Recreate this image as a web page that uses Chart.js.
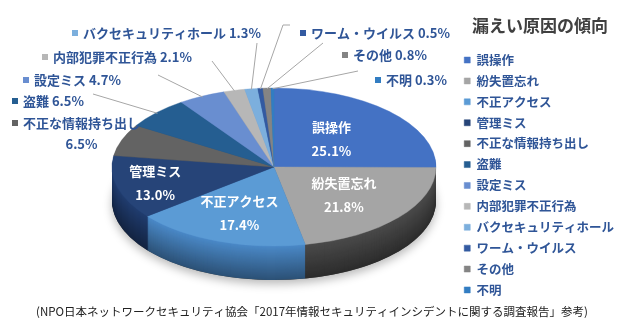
<!DOCTYPE html>
<html><head><meta charset="utf-8">
<script src="https://cdn.jsdelivr.net/npm/chart.js@4.4.1/dist/chart.umd.min.js"></script>
<style>html,body{margin:0;padding:0;background:#fff}#wrap{width:620px;height:328px}</style>
</head><body><div id="wrap"><canvas id="c" width="620" height="328"></canvas></div>
<script>
// ---- data ----
const categories = ['誤操作','紛失置忘れ','不正アクセス','管理ミス','不正な情報持ち出し','盗難','設定ミス','内部犯罪不正行為','バクセキュリティホール','ワーム・ウイルス','その他','不明'];
const shares = [25.1, 21.8, 17.4, 13.0, 6.5, 6.5, 4.7, 2.1, 1.3, 0.5, 0.8, 0.3];
const chartTitle = '漏えい原因の傾向';
const sourceNote = '(NPO日本ネットワークセキュリティ協会「2017年情報セキュリティインシデントに関する調査報告」参考)';

// ---- styles ----
const FONT = '"Noto Sans CJK JP", "Noto Sans", sans-serif';
const topColors  = ['#4472C4','#A5A5A5','#5B9BD5','#264478','#636363','#255E91','#698ED0','#B7B7B7','#7CAFDD','#335AA1','#848484','#327DC2'];
const sideColors = ['#3560A8','#4A4A4A','#4A88C6','#203C6E','#444444','#1E4E7A','#5578B8','#8A8A8A','#6398C8','#2A4C8A','#626262','#2A6AA8'];
const insideRadial = [0.5, 0.56, 0.62, 0.76];
// pie placement (screen): ellipse centre, radii, thickness
const CX = 274, CY = 167, RX = 162, RY = 79, DEPTH = 34;
// outside label placement
const outsideLayout = [
  {i:4,  x:12,  y:123, twoLine:true},
  {i:5,  x:12,  y:101, from:[[93,94]]},
  {i:6,  x:23,  y:80,  from:[[158,75]]},
  {i:7,  x:42,  y:57,  from:[[212,61]]},
  {i:8,  x:72,  y:33,  from:[[257,43]]},
  {i:9,  x:300, y:33,  from:[[290,25],[283,25]]},
  {i:10, x:342, y:55,  from:[[323,43]]},
  {i:11, x:375, y:80,  from:[[358,71]]}
];

function pct(v){ return v.toFixed(1) + '%'; }
function shade(hex, f){
  const n = parseInt(hex.slice(1),16);
  const r = Math.round(((n>>16)&255)*f), g = Math.round(((n>>8)&255)*f), b = Math.round((n&255)*f);
  return 'rgb('+r+','+g+','+b+')';
}
function ePt(a, f){ return [CX + RX*f*Math.cos(a), CY + RY*f*Math.sin(a)]; }

const pie3d = {
  id: 'pie3d',
  beforeDatasetsDraw(chart){
    const ctx = chart.ctx;
    const arcs = chart.getDatasetMeta(0).data;
    ctx.save();
    ctx.shadowColor = 'rgba(0,0,0,0.28)'; ctx.shadowBlur = 10; ctx.shadowOffsetY = 4;
    ctx.fillStyle = '#444';
    ctx.beginPath(); ctx.ellipse(CX, CY + DEPTH, RX, RY, 0, 0, Math.PI*2); ctx.fill();
    ctx.restore();
    for (let d = DEPTH; d >= 1; d--) {
      const t = (d - 1) / (DEPTH - 1);
      arcs.forEach((arc, i) => {
        const p = arc.getProps(['startAngle','endAngle'], true);
        ctx.fillStyle = shade(sideColors[i], 1 - 0.4*t);
        ctx.beginPath();
        ctx.moveTo(CX, CY + d);
        ctx.ellipse(CX, CY + d, RX, RY, 0, p.startAngle, p.endAngle);
        ctx.closePath();
        ctx.fill();
      });
    }
    const a0 = arcs[0].getProps(['x','y','outerRadius'], true);
    ctx.save();
    ctx.translate(CX, CY);
    ctx.scale(RX / a0.outerRadius, RY / a0.outerRadius);
    ctx.translate(-a0.x, -a0.y);
  },
  afterDatasetsDraw(chart){ chart.ctx.restore(); }
};

const pieLabels = {
  id: 'pieLabels',
  afterDraw(chart){
    const ctx = chart.ctx;
    const arcs = chart.getDatasetMeta(0).data;
    ctx.save();
    ctx.fillStyle = '#ffffff';
    ctx.font = 'bold 13px ' + FONT;
    ctx.textAlign = 'center'; ctx.textBaseline = 'middle';
    insideRadial.forEach((f, i) => {
      const p = arcs[i].getProps(['startAngle','endAngle'], true);
      const [x, y] = ePt((p.startAngle + p.endAngle)/2, f);
      ctx.fillText(categories[i], x, y - 12);
      ctx.fillText(pct(shares[i]), x, y + 12);
    });
    outsideLayout.forEach(L => {
      const i = L.i;
      const p = arcs[i].getProps(['startAngle','endAngle'], true);
      if (L.from) {
        const end = ePt((p.startAngle + p.endAngle)/2, 0.99);
        ctx.strokeStyle = '#A6A6A6'; ctx.lineWidth = 1;
        ctx.beginPath();
        ctx.moveTo(L.from[0][0], L.from[0][1]);
        for (let k = 1; k < L.from.length; k++) ctx.lineTo(L.from[k][0], L.from[k][1]);
        ctx.lineTo(end[0], end[1]);
        ctx.stroke();
      }
      ctx.fillStyle = topColors[i];
      ctx.fillRect(L.x, L.y - 3, 6, 6);
      ctx.fillStyle = '#2F5597';
      ctx.font = 'bold 13px ' + FONT;
      ctx.textBaseline = 'middle';
      if (L.twoLine) {
        ctx.textAlign = 'left';
        ctx.fillText(categories[i], L.x + 11, L.y);
        const w = ctx.measureText(categories[i]).width;
        ctx.textAlign = 'center';
        ctx.fillText(pct(shares[i]), L.x + 11 + w/2, L.y + 21);
      } else {
        ctx.textAlign = 'left';
        ctx.fillText(categories[i] + ' ' + pct(shares[i]), L.x + 11, L.y);
      }
    });
    ctx.restore();
  }
};

new Chart(document.getElementById('c'), {
  type: 'pie',
  data: {
    labels: categories,
    datasets: [{
      data: shares,
      backgroundColor: topColors,
      borderColor: topColors,
      borderWidth: 0.5,
      clip: false
    }]
  },
  options: {
    responsive: false,
    animation: false,
    events: [],
    layout: { padding: { right: -4 } },
    plugins: {
      tooltip: { enabled: false },
      legend: {
        position: 'right', align: 'start', fullSize: true,
        title: { display: true, text: chartTitle, color: '#404040',
                 font: { family: FONT, size: 17, weight: 'bold' }, padding: { top: 17, bottom: 8 } },
        labels: { boxWidth: 6, boxHeight: 6, padding: 8.4, color: '#2F5597',
                  font: { family: FONT, size: 12.5, weight: 'bold' } }
      },
      subtitle: {
        display: true, position: 'bottom', text: sourceNote, color: '#222222',
        font: { family: FONT, size: 11.5, weight: 'normal' }, padding: { top: 4, bottom: 9 }
      }
    }
  },
  plugins: [pie3d, pieLabels]
});
</script></body></html>
